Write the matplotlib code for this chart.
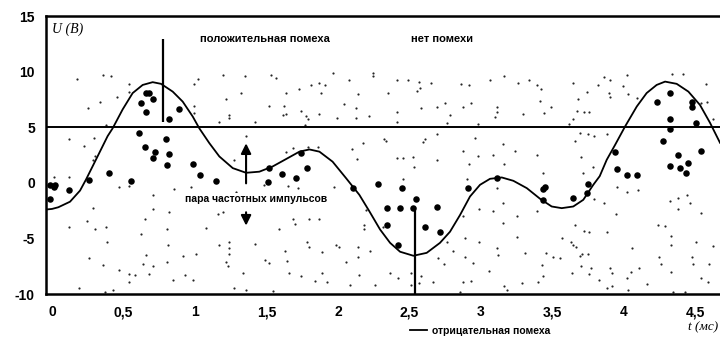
import numpy as np
import matplotlib
matplotlib.use("Agg")
import matplotlib.pyplot as plt
from matplotlib.lines import Line2D

# --- data ---
curve_t = [-0.04, 0.0, 0.044, 0.126, 0.196, 0.238, 0.308, 0.389, 0.424, 0.494, 0.564, 0.634,
           0.704, 0.762, 0.844, 0.914, 0.984, 1.03, 1.1, 1.17, 1.264, 1.357, 1.45, 1.543,
           1.636, 1.73, 1.8, 1.87, 1.962, 2.056, 2.149, 2.22, 2.294, 2.364, 2.434, 2.527,
           2.62, 2.713, 2.783, 2.853, 2.923, 2.993, 3.063, 3.145, 3.226, 3.32, 3.413, 3.494,
           3.564, 3.645, 3.715, 3.785, 3.83, 3.879, 3.937, 4.007, 4.089, 4.158, 4.228, 4.287,
           4.368, 4.45, 4.531, 4.601, 4.671]
curve_u = [-2.4, -2.35, -2.2, -1.7, -0.7, 0.3, 2.1, 4.2, 4.9, 6.6, 8.07, 8.8,
           9.05, 8.9, 8.2, 7.3, 5.96, 4.9, 3.57, 2.37, 1.32, 0.9, 1.0, 1.47,
           2.13, 2.8, 3.0, 2.8, 1.9, 0.42, -1.08, -2.58, -4.2, -5.4, -6.2, -6.56,
           -6.3, -5.4, -4.4, -2.9, -1.23, -0.18, 0.36, 0.48, 0.18, -0.48, -1.44, -2.13,
           -2.28, -2.13, -1.53, -0.18, 0.6, 2.07, 3.4, 5.06, 6.86, 8.07, 8.8, 9.1,
           8.9, 8.2, 7.0, 5.4, 3.6]

# measured samples (large dots)
big_dots = np.array([
    (0.657, 8.1), (0.678, 8.1), (0.622, 7.2), (0.706, 7.5), (0.657, 6.4), (0.888, 6.6),
    (0.818, 5.75), (0.608, 4.5), (0.797, 3.96), (0.650, 3.2), (0.720, 2.8), (0.706, 2.25),
    (0.818, 2.6), (0.804, 1.6), (0.399, 0.9), (0.986, 1.7), (1.035, 0.72), (1.517, 1.35),
    (1.608, 0.8), (1.706, 0.45), (1.783, 1.35), (1.741, 2.7), (0.014, -0.36), (-0.014, -0.18),
    (0.021, -0.18), (-0.014, -1.44), (0.119, -0.63), (0.259, 0.27), (0.552, 0.18), (1.147, 0.18),
    (1.51, 0.09), (2.105, -0.45), (2.28, -0.09), (2.448, -0.45), (2.343, -2.25), (2.434, -2.25),
    (2.524, -2.25), (2.545, -1.44), (2.692, -2.16), (2.343, -3.78), (2.42, -5.58), (2.608, -3.96),
    (2.713, -4.4), (2.909, -0.45), (3.112, 0.45), (3.448, -0.36), (3.43, -0.6), (3.434, -1.53),
    (3.643, -1.35), (3.741, -0.9), (3.748, -0.09), (4.021, 0.72), (4.09, 0.72), (4.322, 8.1),
    (4.231, 7.3), (4.476, 7.3), (4.476, 6.8), (4.322, 5.75), (4.503, 5.4), (4.322, 4.86),
    (4.273, 3.78), (4.538, 2.88), (3.937, 2.79), (4.378, 2.5), (4.322, 1.53), (4.392, 1.35),
    (4.448, 1.8), (4.434, 0.9), (3.951, 1.26),
])

# background noise (small dots)
noise_dots = np.array([
    (0.354, 9.7), (0.413, 9.56), (0.173, 9.3), (0.536, 8.9), (0.536, 8.2), (0.338, 7.3),
    (0.254, 6.7), (0.452, 7.7), (0.995, 8.9), (1.019, 9.3), (1.194, 9.7), (1.35, 9.6),
    (1.531, 9.7), (1.566, 9.4), (1.963, 9.9), (2.243, 9.9), (2.243, 9.56), (2.075, 9.2),
    (1.811, 8.8), (1.865, 9.0), (1.911, 8.8), (1.322, 8.1), (1.22, 7.5), (1.636, 8.1),
    (1.73, 8.4), (1.881, 8.1), (2.138, 8.0), (2.044, 7.1), (1.52, 6.9), (1.625, 6.9),
    (1.741, 6.5), (1.613, 6.1), (1.636, 6.2), (1.235, 6.1), (1.235, 5.8), (1.17, 5.5),
    (1.42, 5.5), (1.776, 6.0), (1.788, 5.7), (1.771, 5.2), (1.87, 6.2), (1.99, 5.8),
    (2.126, 6.7), (2.126, 5.8), (2.22, 6.0), (0.995, 6.9), (0.995, 6.3), (0.378, 5.2),
    (0.117, 3.9), (0.226, 3.3), (0.292, 4.0), (1.357, 4.2), (1.275, 2.07), (1.636, 2.8),
    (1.687, 3.1), (1.788, 3.2), (1.858, 3.2), (2.173, 3.6), (2.324, 3.9), (2.13, 2.1),
    (2.098, 3.0), (0.016, 0.5), (0.121, 0.5), (0.285, 2.07), (0.303, 2.4),
    (2.41, 9.26), (2.492, 9.26), (2.569, 9.1), (2.648, 8.96), (2.573, 8.5), (2.55, 8.3),
    (2.352, 8.1), (2.858, 8.9), (2.918, 8.8), (3.063, 9.26), (3.161, 9.6), (3.261, 8.96),
    (3.338, 9.26), (3.394, 8.8), (3.42, 8.4), (3.641, 9.0), (3.739, 8.2), (3.82, 8.8),
    (3.86, 9.5), (3.902, 9.26), (4.019, 9.7), (3.995, 8.7), (4.03, 8.0), (3.897, 8.1),
    (3.902, 7.7), (4.089, 7.6), (2.748, 7.2), (2.928, 7.2), (2.872, 6.8), (3.11, 6.8),
    (3.114, 6.4), (3.098, 5.9), (2.578, 6.7), (2.69, 6.8), (2.783, 6.1), (2.76, 5.4),
    (2.981, 5.3), (2.41, 6.4), (2.41, 5.5), (3.413, 7.4), (3.487, 6.8), (3.441, 6.3),
    (3.296, 6.2), (3.681, 7.5), (3.674, 6.5), (3.72, 6.4), (3.757, 6.4), (3.641, 5.7),
    (3.618, 5.3), (4.62, 5.7), (4.578, 7.3), (4.536, 7.2), (4.333, 9.8), (4.41, 9.8),
    (4.573, 8.9), (2.336, 3.78), (2.608, 3.93), (2.592, 3.7), (2.69, 4.4), (2.958, 4.0),
    (3.156, 3.5), (2.872, 2.9), (2.695, 2.07), (2.527, 2.3), (2.452, 2.2), (2.415, 2.2),
    (2.531, 1.4), (2.981, 2.4), (3.086, 2.5), (3.238, 2.9), (3.389, 2.5), (2.918, 1.7),
    (3.161, 1.7), (3.692, 4.5), (3.75, 4.4), (3.79, 4.2), (3.879, 4.4), (3.657, 3.8),
    (3.697, 2.3), (3.781, 1.4), (3.716, 0.9), (3.436, 0.9),
    (0.285, -2.28), (0.117, -4.0), (0.242, -3.42), (0.303, -4.14), (0.378, -4.0), (0.382, -5.3),
    (0.261, -6.8), (0.359, -7.4), (0.187, -9.5), (0.373, -9.8), (0.429, -9.6), (0.466, -7.8),
    (0.541, -8.2), (0.583, -8.3), (0.541, -8.9), (0.622, -4.6), (0.639, -7.3), (0.657, -6.5),
    (0.709, -7.5), (0.681, -8.2), (0.653, -3.24), (0.709, -2.34), (0.802, -4.14), (0.809, -5.6),
    (0.816, -2.6), (0.972, -0.42), (1.077, -4.1), (1.17, -5.6), (1.235, -5.9), (1.235, -6.4),
    (1.217, -7.1), (1.229, -7.5), (1.334, -8.1), (1.275, -9.5), (1.357, -9.6), (1.422, -5.5),
    (1.492, -6.9), (1.52, -7.2), (1.548, -9.7), (1.485, -0.24), (1.59, -4.14), (1.632, -6.1),
    (1.641, -7.0), (1.655, -8.1), (1.683, -3.24), (1.741, -8.4), (1.781, -5.3), (1.795, -5.8),
    (1.799, -3.3), (1.869, -3.24), (1.888, -8.1), (1.888, -6.2), (1.841, -8.8), (1.921, -8.9),
    (1.974, -0.42), (1.986, -5.6), (2.009, -5.8), (2.056, -7.1), (2.084, -9.2), (2.138, -5.8),
    (2.149, -8.3), (2.138, -6.7), (2.224, -6.1), (2.184, -3.8), (2.184, -4.14), (2.313, -4.0),
    (2.261, -9.2), (2.196, -2.43), (0.466, -0.42), (0.536, -0.33), (0.709, -1.14), (0.855, -0.54),
    (1.287, -0.84), (1.718, -0.48), (1.648, -0.33), (1.701, -3.7), (1.159, -2.8), (0.802, -7.1),
    (0.914, -6.6), (1.007, -6.4), (1.235, -5.3), (1.198, -2.6), (0.984, -8.7), (0.932, -8.3),
    (0.844, -8.7),
    (2.457, 0.36), (2.904, 0.36), (3.11, -0.48), (2.988, -2.34), (3.086, -2.58), (3.152, -1.83),
    (3.25, -3.03), (3.394, -2.58), (3.152, -3.63), (2.872, -3.03), (2.765, -5.28), (2.888, -4.92),
    (2.988, -5.28), (2.802, -6.1), (2.702, -6.8), (2.741, -7.3), (2.888, -6.7), (2.946, -7.2),
    (3.058, -7.9), (3.11, -5.9), (3.121, -6.5), (3.254, -4.9), (3.308, -6.3), (3.455, -6.3),
    (3.506, -6.7), (3.424, -7.4), (3.431, -8.4), (3.401, -8.9), (3.285, -9.0), (3.18, -9.6),
    (3.161, -9.3), (2.853, -9.8), (2.872, -8.9), (2.928, -8.8), (2.667, -8.9), (2.578, -8.4),
    (2.569, -9.0), (2.508, -8.1), (2.508, -9.2), (2.422, -8.6), (2.364, -8.1), (3.944, -2.8),
    (3.879, -4.4), (3.72, -4.3), (3.757, -4.4), (3.657, -3.8), (3.627, -5.3), (3.664, -5.8),
    (3.704, -6.4), (3.75, -6.4), (3.697, -7.5), (3.757, -8.2), (3.902, -7.7), (3.914, -8.1),
    (3.827, -8.7), (3.879, -9.5), (3.914, -9.3), (4.03, -9.6), (4.019, -8.6), (4.047, -8.0),
    (4.107, -7.7), (4.159, -9.1), (4.247, -6.7), (4.257, -7.3), (4.326, -8.0), (4.427, -9.8),
    (4.345, -9.8), (4.473, -6.7), (4.596, -7.3), (4.485, -7.3), (4.59, -8.9), (4.536, -8.6),
    (4.326, -5.6), (4.326, -4.8), (4.24, -3.8), (4.287, -3.9), (4.503, -5.3), (4.62, -5.7),
    (4.536, -2.7), (4.38, -2.4), (4.38, -1.4), (4.462, -1.8), (4.443, -1.1), (4.322, -1.6),
    (4.1, -0.63), (4.019, -0.84), (3.953, -0.42), (3.79, -1.44), (3.86, -1.83), (3.564, -4.98),
    (3.646, -5.6), (3.692, -6.6), (3.767, -7.7), (3.634, -8.1), (3.552, -6.8), (4.054, -5.9),
])

x_ticks = [0, 0.5, 1, 1.5, 2, 2.5, 3, 3.5, 4, 4.5]
x_labels = ["0", "0,5", "1", "1,5", "2", "2,5", "3", "3,5", "4", "4,5"]
y_ticks = [-10, -5, 0, 5, 10, 15]
threshold = 5

plt.rcParams['font.family'] = ['Liberation Sans', 'DejaVu Sans']
plt.rcParams['axes.unicode_minus'] = False

fig = plt.figure(figsize=(7.2, 3.37), dpi=100)
ax = fig.add_axes([46 / 720, 43 / 337, 674 / 720, 278 / 337])

ax.scatter(noise_dots[:, 0], noise_dots[:, 1], s=2.5, color='0.15', linewidths=0, zorder=2)
ax.scatter(big_dots[:, 0], big_dots[:, 1], s=22, color='black', linewidths=0, zorder=3)
ax.plot(curve_t, curve_u, color='black', lw=1.3, zorder=4)
ax.axhline(threshold, color='black', lw=1.4, zorder=4)

# markers for positive / negative interference
ax.vlines(0.776, 5.45, 12.9, color='black', lw=1.6, zorder=5)
ax.vlines(2.538, -10, -2.2, color='black', lw=1.6, zorder=5)
ax.annotate('', xy=(1.357, 3.8), xytext=(1.357, -0.3),
            arrowprops=dict(arrowstyle='-|>,head_width=0.3,head_length=0.6', color='black', lw=1.5))
ax.annotate('', xy=(1.357, -4.1), xytext=(1.357, -2.4),
            arrowprops=dict(arrowstyle='-|>,head_width=0.3,head_length=0.6', color='black', lw=1.5))

ax.text(1.49, 12.9, 'положительная помеха', fontsize=8, ha='center', va='center', weight='bold')
ax.text(2.73, 12.9, 'нет помехи', fontsize=8, ha='center', va='center', weight='bold')
ax.text(1.43, -1.44, 'пара частотных импульсов', fontsize=7.5, ha='center', va='center',
        weight='bold', bbox=dict(facecolor='white', edgecolor='none', pad=0.5))
ax.text(0.0, 13.8, 'U (В)', fontsize=10, ha='left', va='center', style='italic',
        family=['Liberation Serif', 'DejaVu Serif'])

ax.set_xlim(-0.042, 4.671)
ax.set_ylim(-10, 15)
ax.set_xticks(x_ticks)
ax.set_xticklabels(x_labels)
ax.set_yticks(y_ticks)
ax.tick_params(length=0, labelsize=10, pad=8)
for lab in ax.get_xticklabels() + ax.get_yticklabels():
    lab.set_fontweight('bold')
for side in ['left', 'bottom', 'top']:
    ax.spines[side].set_linewidth(1.8)
ax.spines['right'].set_visible(False)

fig.text(0.997, 1 - 327 / 337, 't (мс)', fontsize=9.5, ha='right', va='center', style='italic',
         family=['Liberation Serif', 'DejaVu Serif'])

leg = fig.legend(handles=[Line2D([], [], color='black', lw=1.3)], labels=['отрицательная помеха'],
                 loc='center left', bbox_to_anchor=(410 / 720, 1 - 331 / 337), frameon=False,
                 fontsize=7.5, handlelength=1.6, handletextpad=0.5, borderpad=0, borderaxespad=0)
for t in leg.get_texts():
    t.set_fontweight('bold')

fig.savefig('out.png', dpi=100)
